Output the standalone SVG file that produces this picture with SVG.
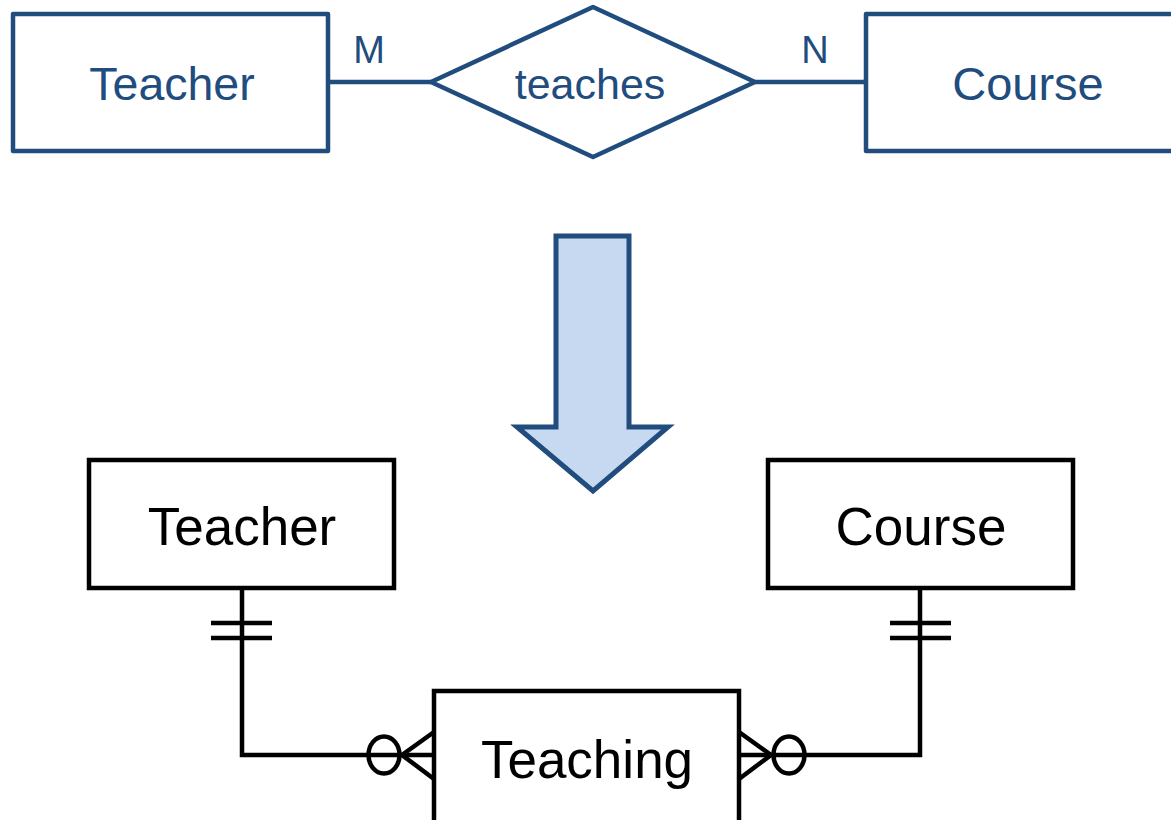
<svg xmlns="http://www.w3.org/2000/svg" width="1171" height="820" viewBox="0 0 1171 820">
<style>
.er{fill:#fff;stroke:#214C7E;stroke-width:4.5;stroke-linejoin:round}
.bt{fill:#214C7E;font-family:"Liberation Sans",Arial,sans-serif;text-anchor:middle}
.bx{fill:#fff;stroke:#000;stroke-width:4.5}
.k{fill:#000;font-family:"Liberation Sans",Arial,sans-serif;text-anchor:middle;font-size:53px}
.ln{fill:none;stroke:#000;stroke-width:4.5}
.bl{fill:none;stroke:#214C7E;stroke-width:4.5}
</style>
<rect width="1171" height="820" fill="#fff"/>
<g id="connectors">
<line class="bl" x1="328" y1="82" x2="431" y2="82"/>
<line class="bl" x1="755" y1="82" x2="866" y2="82"/>
<text class="bt" x="369" y="63" font-size="38">M</text>
<text class="bt" x="815" y="63" font-size="38">N</text>
<polyline class="ln" points="242,588 242,755 434,755"/>
<line class="ln" x1="211" y1="623" x2="272" y2="623"/>
<line class="ln" x1="211" y1="638" x2="272" y2="638"/>
<ellipse class="ln" cx="384" cy="755" rx="15.5" ry="18.5" fill="#fff"/>
<polyline class="ln" points="434,732 402,755 434,779"/>
<polyline class="ln" points="920,588 920,755 739,755"/>
<line class="ln" x1="890" y1="623" x2="951" y2="623"/>
<line class="ln" x1="890" y1="638" x2="951" y2="638"/>
<ellipse class="ln" cx="789" cy="755" rx="15.5" ry="18.5" fill="#fff"/>
<polyline class="ln" points="739,732 771,755 739,779"/>
</g>
<g id="teacher-top">
<rect class="er" x="13" y="14" width="315" height="137"/>
<text class="bt" x="172" y="100" font-size="46.5">Teacher</text>
</g>
<g id="teaches">
<polygon class="er" points="431,82 593,7 755,82 593,157"/>
<text class="bt" x="590" y="99" font-size="43">teaches</text>
</g>
<g id="course-top">
<rect class="er" x="866" y="14" width="320" height="137"/>
<text class="bt" x="1028" y="100" font-size="47">Course</text>
</g>
<g id="arrow">
<polygon points="556,236 629,236 629,427 668,427 593,491 517,427 556,427" fill="#C6D9F0" stroke="#214C7E" stroke-width="5" stroke-linejoin="miter"/>
</g>
<g id="teacher">
<rect class="bx" x="89" y="460" width="305" height="128"/>
<text class="k" x="242" y="545">Teacher</text>
</g>
<g id="course">
<rect class="bx" x="768" y="460" width="305" height="128"/>
<text class="k" x="921" y="545">Course</text>
</g>
<g id="teaching">
<rect class="bx" x="434" y="691" width="305" height="140"/>
<text class="k" x="587" y="778">Teaching</text>
</g>
</svg>
